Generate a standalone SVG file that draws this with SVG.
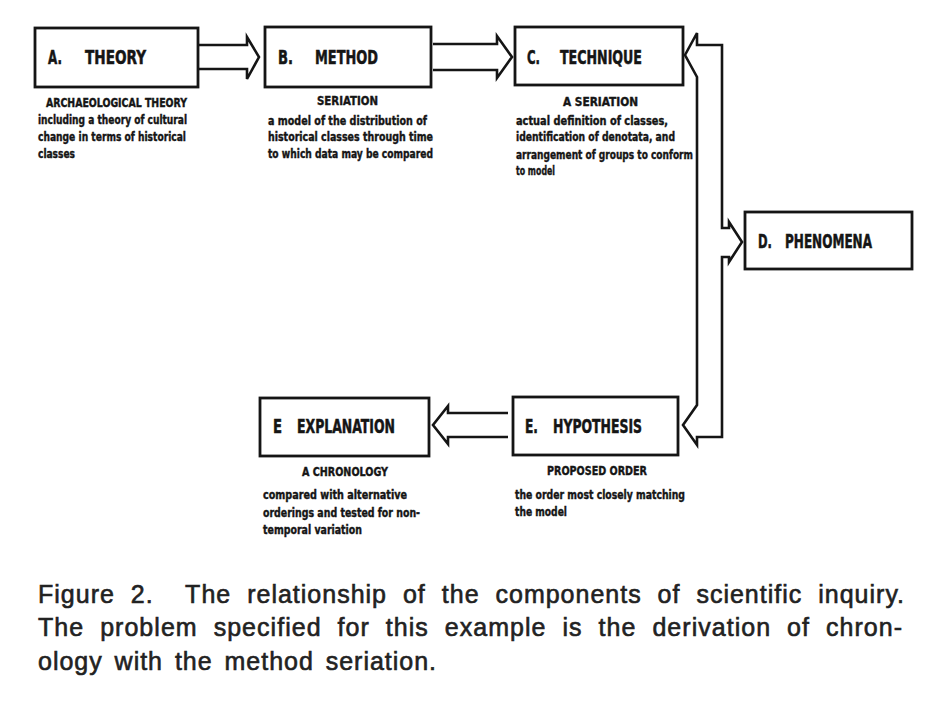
<svg xmlns="http://www.w3.org/2000/svg" width="935" height="710" viewBox="0 0 935 710">
<style>
  .box { fill: #fff; stroke: #151515; stroke-width: 2.8; }
  .conn { fill: #fff; stroke: #151515; stroke-width: 2.6; stroke-linejoin: miter; }
  .ttl { font-family: "Liberation Sans Narrow", "DejaVu Sans Condensed", "Liberation Sans", sans-serif; font-weight: bold; font-size: 19px; fill: #151515; stroke: #151515; stroke-width: 0.5; }
  .sub { font-family: "Liberation Sans Narrow", "DejaVu Sans Condensed", "Liberation Sans", sans-serif; font-weight: bold; font-size: 12.5px; fill: #151515; stroke: #151515; stroke-width: 0.4; }
  .cap { font-family: "Liberation Sans", "Arial", sans-serif; font-size: 25px; fill: #222; stroke: #222; stroke-width: 0.6; letter-spacing: 1px; }
</style>
<rect width="935" height="710" fill="#fff"/>

<g id="connectors">
  <path class="conn" d="M199,45 L247,45 L247,37 L259,57 L247,79 L247,69 L199,69"/>
  <path class="conn" d="M433,44 L497,44 L497,36 L512,57 L497,78 L497,70 L433,70"/>
  <path class="conn" d="M508,413 L448,413 L448,406 L433,425 L448,444 L448,437 L508,437"/>
  <path class="conn" d="M685,55 L697,33 L697,45 L722,45 L722,228 L729,228 L729,222 L742,242 L729,262 L729,257 L722,257 L722,437 L697,437 L697,445 L683,425 L697,405 L697,77 Z"/>
</g>

<g id="theory">
  <rect class="box" x="35" y="28" width="163" height="59"/>
  <text class="ttl" x="48" y="64" textLength="14" lengthAdjust="spacingAndGlyphs">A.</text>
  <text class="ttl" x="85" y="64" textLength="61" lengthAdjust="spacingAndGlyphs">THEORY</text>
  <text class="sub" x="46" y="107" textLength="141" lengthAdjust="spacingAndGlyphs">ARCHAEOLOGICAL  THEORY</text>
  <text class="sub" x="38" y="124" textLength="149" lengthAdjust="spacingAndGlyphs">including a theory of cultural</text>
  <text class="sub" x="38" y="141" textLength="148" lengthAdjust="spacingAndGlyphs">change in terms of historical</text>
  <text class="sub" x="38" y="158" textLength="37" lengthAdjust="spacingAndGlyphs">classes</text>
</g>

<g id="method">
  <rect class="box" x="265" y="27" width="166" height="60"/>
  <text class="ttl" x="278" y="64" textLength="15" lengthAdjust="spacingAndGlyphs">B.</text>
  <text class="ttl" x="315" y="64" textLength="63" lengthAdjust="spacingAndGlyphs">METHOD</text>
  <text class="sub" x="317" y="105" textLength="61" lengthAdjust="spacingAndGlyphs">SERIATION</text>
  <text class="sub" x="268" y="125" textLength="159" lengthAdjust="spacingAndGlyphs">a model of the distribution of</text>
  <text class="sub" x="268" y="141" textLength="165" lengthAdjust="spacingAndGlyphs">historical classes through time</text>
  <text class="sub" x="268" y="158" textLength="165" lengthAdjust="spacingAndGlyphs">to which data may be compared</text>
</g>

<g id="technique">
  <rect class="box" x="515" y="27" width="168" height="58"/>
  <text class="ttl" x="527" y="64" textLength="13" lengthAdjust="spacingAndGlyphs">C.</text>
  <text class="ttl" x="560" y="64" textLength="82" lengthAdjust="spacingAndGlyphs">TECHNIQUE</text>
  <text class="sub" x="563" y="106" textLength="75" lengthAdjust="spacingAndGlyphs">A SERIATION</text>
  <text class="sub" x="516" y="125" textLength="152" lengthAdjust="spacingAndGlyphs">actual definition of classes,</text>
  <text class="sub" x="516" y="141" textLength="159" lengthAdjust="spacingAndGlyphs">identification of denotata, and</text>
  <text class="sub" x="516" y="159" textLength="177" lengthAdjust="spacingAndGlyphs">arrangement of groups to conform</text>
  <text class="sub" x="516" y="175" textLength="39" lengthAdjust="spacingAndGlyphs">to model</text>
</g>

<g id="phenomena">
  <rect class="box" x="745" y="212" width="167" height="57"/>
  <text class="ttl" x="758" y="248" textLength="14" lengthAdjust="spacingAndGlyphs">D.</text>
  <text class="ttl" x="785" y="248" textLength="87" lengthAdjust="spacingAndGlyphs">PHENOMENA</text>
</g>

<g id="hypothesis">
  <rect class="box" x="513" y="397" width="165" height="58"/>
  <text class="ttl" x="525" y="433" textLength="13" lengthAdjust="spacingAndGlyphs">E.</text>
  <text class="ttl" x="553" y="433" textLength="89" lengthAdjust="spacingAndGlyphs">HYPOTHESIS</text>
  <text class="sub" x="547" y="475" textLength="100" lengthAdjust="spacingAndGlyphs">PROPOSED ORDER</text>
  <text class="sub" x="515" y="499" textLength="170" lengthAdjust="spacingAndGlyphs">the order most closely matching</text>
  <text class="sub" x="515" y="516" textLength="52" lengthAdjust="spacingAndGlyphs">the model</text>
</g>

<g id="explanation">
  <rect class="box" x="260" y="398" width="169" height="58"/>
  <text class="ttl" x="273" y="433" textLength="9" lengthAdjust="spacingAndGlyphs">E</text>
  <text class="ttl" x="297" y="433" textLength="98" lengthAdjust="spacingAndGlyphs">EXPLANATION</text>
  <text class="sub" x="302" y="476" textLength="86" lengthAdjust="spacingAndGlyphs">A CHRONOLOGY</text>
  <text class="sub" x="263" y="499" textLength="144" lengthAdjust="spacingAndGlyphs">compared with alternative</text>
  <text class="sub" x="263" y="517" textLength="157" lengthAdjust="spacingAndGlyphs">orderings and tested for non-</text>
  <text class="sub" x="263" y="534" textLength="99" lengthAdjust="spacingAndGlyphs">temporal variation</text>
</g>

<g id="caption">
  <text class="cap" x="38" y="603" word-spacing="8" textLength="867" lengthAdjust="spacing" xml:space="preserve">Figure 2.  The relationship of the components of scientific inquiry.</text>
  <text class="cap" x="38" y="636" word-spacing="8" textLength="865" lengthAdjust="spacing">The problem specified for this example is the derivation of chron-</text>
  <text class="cap" x="38" y="670" word-spacing="4" textLength="399" lengthAdjust="spacing">ology with the method seriation.</text>
</g>
</svg>
